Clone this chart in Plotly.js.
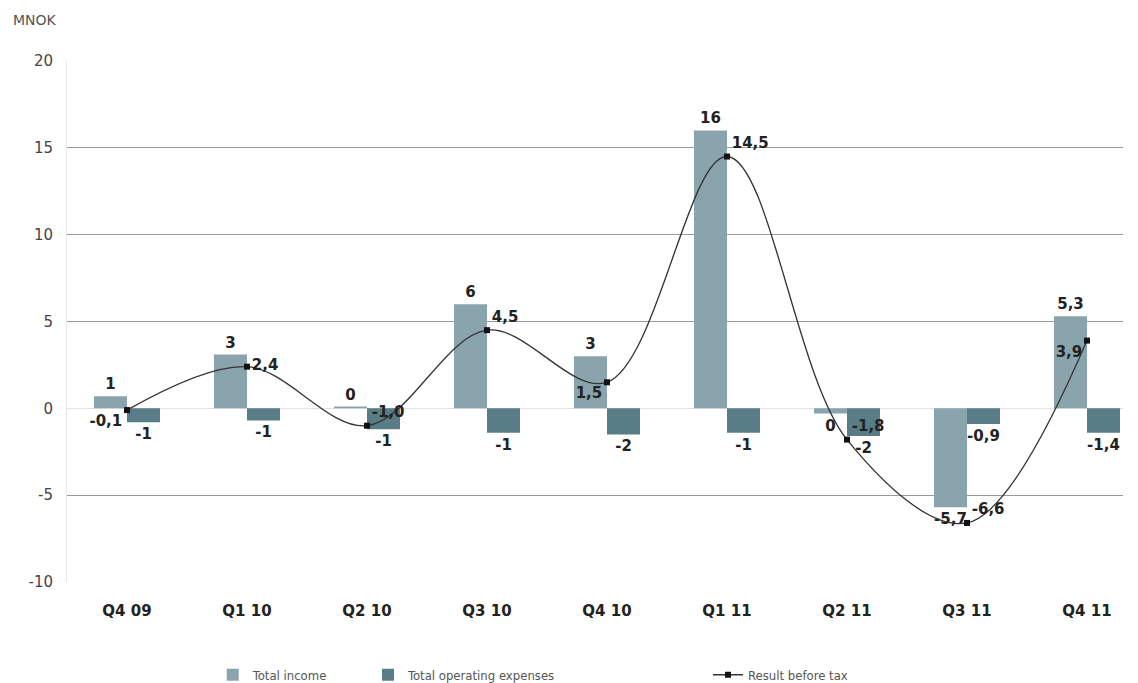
<!DOCTYPE html>
<html>
<head>
<meta charset="utf-8">
<script src="https://cdn.plot.ly/plotly-3.0.1.min.js"></script>
<style>html,body{margin:0;padding:0;background:#fff;}#chart{width:1138px;height:683px;}</style>
</head>
<body>
<div id="chart"></div>
<script>
const quarters = ["Q4 09","Q1 10","Q2 10","Q3 10","Q4 10","Q1 11","Q2 11","Q3 11","Q4 11"];
const totalIncome = [0.7, 3.1, 0.1, 6.0, 3.0, 16.0, -0.3, -5.7, 5.3];
const incomeLabels = ["1","3","0","6","3","16","0","-5,7","5,3"];
const operatingExpenses = [-0.8, -0.7, -1.2, -1.4, -1.5, -1.4, -1.6, -0.9, -1.4];
const expenseLabels = ["-1","-1","-1","-1","-2","-1","-2","-0,9","-1,4"];
const resultBeforeTax = [-0.1, 2.4, -1.0, 4.5, 1.5, 14.5, -1.8, -6.6, 3.9];
const resultLabels = ["-0,1","2,4","-1,0","4,5","1,5","14,5","-1,8","-6,6","3,9"];
const resultLabelPos = ["bottom left","middle right","top right","top right","bottom left","top right","top right","top right","bottom left"];
const yTickVals = [-10, -5, 0, 5, 10, 15, 20];
const yTickText = ["-10","-5","0","5","10","15","20"];

const labelFont = {family: "DejaVu Sans", size: 15, color: "#222", weight: "bold"};

const traces = [
  {type: "bar", name: "Total income", x: quarters, y: totalIncome,
   text: incomeLabels, textposition: "outside", textfont: labelFont, cliponaxis: false,
   marker: {color: "#8aa4ae"}, legend: "legend"},
  {type: "bar", name: "Total operating expenses", x: quarters, y: operatingExpenses,
   text: expenseLabels, textposition: "outside", textfont: labelFont, cliponaxis: false,
   marker: {color: "#587d87"}, legend: "legend2"},
  {type: "scatter", mode: "lines+markers+text", name: "Result before tax", x: quarters, y: resultBeforeTax,
   text: resultLabels, textposition: resultLabelPos, textfont: labelFont, cliponaxis: false,
   line: {color: "#333", width: 1.3, shape: "spline", smoothing: 1},
   marker: {symbol: "square", size: 6, color: "#111"}, legend: "legend3"}
];

const legendBase = {orientation: "h", yanchor: "middle", xanchor: "left", yref: "container", y: 0.012,
  font: {family: "DejaVu Sans Condensed", size: 13, color: "#555"}, bgcolor: "rgba(0,0,0,0)"};

const layout = {
  width: 1138, height: 683,
  margin: {l: 67, r: 15, t: 61, b: 101},
  paper_bgcolor: "#fff", plot_bgcolor: "#fff",
  barmode: "group", bargap: 0.45, bargroupgap: 0,
  showlegend: true,
  legend: Object.assign({}, legendBase, {x: 0.138}),
  legend2: Object.assign({}, legendBase, {x: 0.285}),
  legend3: Object.assign({}, legendBase, {x: 0.607}),
  xaxis: {type: "category", range: [-0.5, 8.3], showgrid: false, zeroline: false, automargin: false,
    showline: false, ticks: "", ticklabelstandoff: 18,
    tickfont: {family: "DejaVu Sans", size: 15, color: "#222", weight: "bold"}},
  yaxis: {range: [-10, 20], tickvals: yTickVals, ticktext: yTickText, automargin: false,
    showgrid: true, gridcolor: "#9a9a9a", gridwidth: 1.2,
    zeroline: true, zerolinecolor: "#e2e2e2", zerolinewidth: 1.5,
    showline: true, linecolor: "#e6e6e6", linewidth: 1, ticks: "", ticklabelstandoff: 10,
    tickfont: {family: "DejaVu Sans", size: 15, color: "#444"}},
  annotations: [{text: "MNOK", xref: "paper", yref: "paper", x: -0.053, y: 1.078, xanchor: "left", yanchor: "middle",
    showarrow: false, font: {family: "DejaVu Sans", size: 14, color: "#555"}}]
};

Plotly.newPlot("chart", traces, layout, {displayModeBar: false, staticPlot: true});
</script>
</body>
</html>
